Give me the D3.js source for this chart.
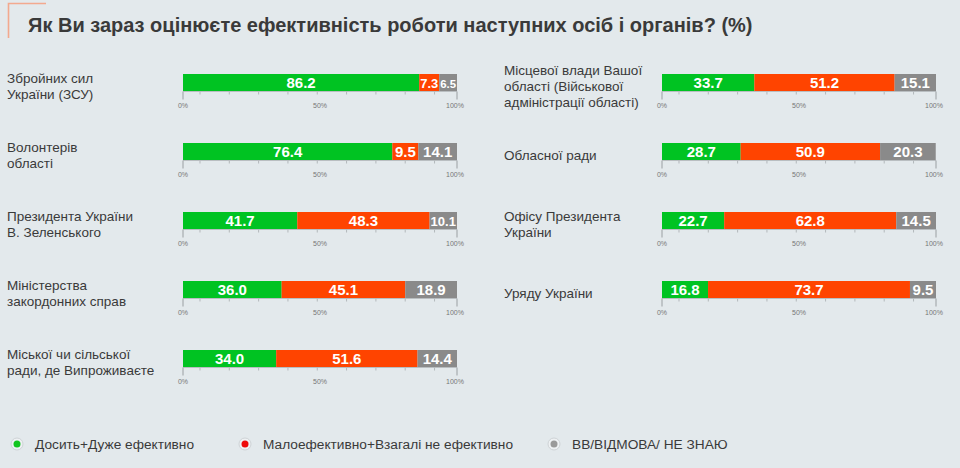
<!DOCTYPE html>
<html>
<head>
<meta charset="utf-8">
<script src="https://cdn.jsdelivr.net/npm/d3@7"></script>
<style>
  html, body { margin: 0; padding: 0; background: #e3e9ec; }
  svg { display: block; font-family: "Liberation Sans", Arial, sans-serif; }
</style>
</head>
<body>
<svg id="chart" width="960" height="468"></svg>
<script>
// ---- data ----
const title = "Як Ви зараз оцінюєте ефективність роботи наступних осіб і органів? (%)";
const seriesNames = ["Досить+Дуже ефективно", "Малоефективно+Взагалі не ефективно", "ВВ/ВІДМОВА/ НЕ ЗНАЮ"];

const categoriesLeft = [
  "Збройних сил\nУкраїни (ЗСУ)",
  "Волонтерів\nобласті",
  "Президента України\nВ. Зеленського",
  "Міністерства\nзакордонних справ",
  "Міської чи сільської\nради, де Випроживаєте"
];
const effectiveLeft   = [86.2, 76.4, 41.7, 36.0, 34.0];
const ineffectiveLeft = [7.3, 9.5, 48.3, 45.1, 51.6];
const dontKnowLeft    = [6.5, 14.1, 10.1, 18.9, 14.4];

const categoriesRight = [
  "Місцевої влади Вашої\nобласті (Військової\nадміністрації області)",
  "Обласної ради",
  "Офісу Президента\nУкраїни",
  "Уряду України"
];
const effectiveRight   = [33.7, 28.7, 22.7, 16.8];
const ineffectiveRight = [51.2, 50.9, 62.8, 73.7];
const dontKnowRight    = [15.1, 20.3, 14.5, 9.5];

const axisTickLabels = [0, 50, 100];
const minorTicks = [6.2, 16.9, 27.6, 38.3, 49.0, 59.7, 70.4, 81.1, 91.8];

// ---- styles ----
const barColors = ["#00c322", "#ff4400", "#8a8a8a"];
const legendColors = ["#12c51f", "#ee0a0a", "#9a9a9a"];
const textColor = "#3a3a3a";

const svg = d3.select("#chart");

// title + corner bracket
svg.append("path")
  .attr("d", "M8.5,38 V3.5 H46")
  .attr("fill", "none")
  .attr("stroke", "#f3a98e")
  .attr("stroke-width", 1.6);

svg.append("text")
  .attr("x", 28).attr("y", 32)
  .attr("font-size", 20).attr("font-weight", "bold")
  .attr("fill", textColor)
  .text(title);

// row scale shared
const rowY = d3.scalePoint().domain([0, 1, 2, 3, 4]).range([74, 350]);
const barH = 17;

function drawPanel(labelX, x0, x1, cats, s1, s2, s3) {
  const x = d3.scaleLinear().domain([0, 100]).range([x0, x1]);
  const g = svg.append("g");
  cats.forEach((cat, i) => {
    const y = rowY(i);
    const vals = [s1[i], s2[i], s3[i]];
    const stack = [];
    let acc = 0;
    vals.forEach((v, k) => { stack.push({ k, v, a: acc, b: Math.min(100, acc + v) }); acc += v; });

    const row = g.append("g");
    row.selectAll("rect.seg").data(stack).join("rect")
      .attr("class", "seg")
      .attr("x", d => x(d.a))
      .attr("y", y)
      .attr("width", d => Math.max(0, x(d.b) - x(d.a)))
      .attr("height", barH)
      .attr("fill", d => barColors[d.k]);

    row.selectAll("text.val").data(stack).join("text")
      .attr("class", "val")
      .attr("x", d => (x(d.a) + x(d.b)) / 2)
      .attr("y", y + barH / 2 + 5.3)
      .attr("text-anchor", "middle")
      .attr("font-size", d => {
        const w = x(d.b) - x(d.a) - 2;
        const txt = d.v.toFixed(1);
        const need = (txt.length - 1) * 0.556 + 0.278; // em width of bold digits + dot
        return Math.min(15, w / need);
      })
      .attr("font-weight", "bold")
      .attr("fill", "#ffffff")
      .text(d => d.v.toFixed(1));

    // axis
    const ay = y + barH + 0.5;
    const ag = row.append("g").attr("transform", `translate(0,${ay})`);
    ag.append("line").attr("x1", x(0)).attr("x2", x(100)).attr("stroke", "#b9bec1").attr("stroke-width", 1);
    ag.selectAll("line.minor").data(minorTicks).join("line")
      .attr("class", "minor")
      .attr("x1", d => x(d)).attr("x2", d => x(d))
      .attr("y1", 0).attr("y2", 3)
      .attr("stroke", "#b3b8bb");
    ag.selectAll("line.major").data([0, 100]).join("line")
      .attr("class", "major")
      .attr("x1", d => x(d)).attr("x2", d => x(d))
      .attr("y1", 0).attr("y2", 8)
      .attr("stroke", "#9a9fa2");
    ag.selectAll("text.tl").data(axisTickLabels).join("text")
      .attr("class", "tl")
      .attr("x", d => x(d) - (d === 100 ? 2 : 0))
      .attr("y", 16)
      .attr("text-anchor", "middle")
      .attr("font-size", 7)
      .attr("fill", "#777")
      .text(d => d + "%");

    // category label
    const lines = cat.split("\n");
    const cy = y + barH / 2 + 4;
    const first = cy - (lines.length - 1) * 8 + 4.5;
    const t = row.append("text")
      .attr("x", labelX)
      .attr("font-size", 13.5)
      .attr("fill", textColor);
    lines.forEach((ln, j) => {
      t.append("tspan").attr("x", labelX).attr("y", first + j * 16).text(ln);
    });
  });
}

drawPanel(7, 183, 457, categoriesLeft, effectiveLeft, ineffectiveLeft, dontKnowLeft);
drawPanel(504, 662, 936, categoriesRight, effectiveRight, ineffectiveRight, dontKnowRight);

// legend
const legendX = [17, 245, 554];
const lg = svg.append("g").attr("transform", "translate(0,444)");
seriesNames.forEach((name, i) => {
  const it = lg.append("g").attr("transform", `translate(${legendX[i]},0)`);
  it.append("circle").attr("r", 6).attr("fill", "#eef1f3").attr("stroke", "#cfd3d6").attr("stroke-width", 1);
  it.append("circle").attr("r", 3.5).attr("fill", legendColors[i]);
  it.append("text").attr("x", 18).attr("y", 4.8)
    .attr("font-size", 13.7).attr("fill", textColor).text(name);
});
</script>
</body>
</html>
